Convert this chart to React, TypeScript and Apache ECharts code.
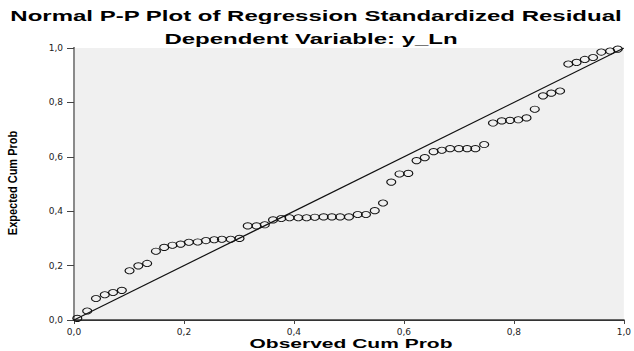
import React, { useEffect, useRef } from "react";
import * as echarts from "echarts";

const titleText = "Normal P-P Plot of Regression Standardized Residual";
const subtitleText = "Dependent Variable: y_Ln";
const xAxisName = "Observed Cum Prob";
const yAxisName = "Expected Cum Prob";

const observedCumProb = [
  0.006, 0.024, 0.04, 0.056, 0.071, 0.087, 0.101, 0.117, 0.133, 0.149,
  0.164, 0.179, 0.194, 0.209, 0.225, 0.24, 0.255, 0.269, 0.285, 0.301,
  0.316, 0.332, 0.347, 0.362, 0.377, 0.392, 0.408, 0.423, 0.438, 0.454,
  0.469, 0.484, 0.5, 0.516, 0.531, 0.547, 0.562, 0.577, 0.592, 0.608,
  0.623, 0.638, 0.654, 0.669, 0.684, 0.7, 0.715, 0.73, 0.746, 0.762,
  0.778, 0.793, 0.808, 0.823, 0.838, 0.853, 0.868, 0.884, 0.899, 0.914,
  0.929, 0.944, 0.959, 0.975, 0.989,
];
const expectedCumProb = [
  0.006, 0.033, 0.079, 0.093, 0.101, 0.109, 0.181, 0.199, 0.208, 0.253,
  0.267, 0.275, 0.279, 0.286, 0.287, 0.292, 0.295, 0.297, 0.297, 0.3,
  0.346, 0.346, 0.35, 0.368, 0.373, 0.376, 0.376, 0.376, 0.378, 0.379,
  0.379, 0.379, 0.379, 0.388, 0.388, 0.402, 0.43, 0.507, 0.537, 0.539,
  0.586, 0.597, 0.619, 0.624, 0.63, 0.63, 0.63, 0.63, 0.645, 0.724,
  0.732, 0.734, 0.736, 0.743, 0.775, 0.824, 0.834, 0.842, 0.941, 0.947,
  0.958, 0.965, 0.985, 0.989, 0.996,
];
const referenceLine = [
  [0, 0],
  [1, 1],
];

const fmt = (v: number) => v.toFixed(1).replace(".", ",");

export default function App() {
  const ref = useRef<HTMLDivElement>(null);
  useEffect(() => {
    if (!ref.current) return;
    const chart = echarts.init(ref.current, undefined, { renderer: "svg" });
    const labelStyle = {
      fontFamily: "DejaVu Sans",
      fontSize: 9,
      color: "#222",
    };
    chart.setOption({
      animation: false,
      backgroundColor: "#ffffff",
      grid: {
        left: 74,
        right: 9,
        top: 48,
        bottom: 31,
        show: true,
        backgroundColor: "#F0F0F0",
        borderWidth: 0,
      },
      xAxis: [
        {
          type: "value",
          min: 0,
          max: 1,
          interval: 0.2,
          position: "bottom",
          axisLine: { show: true, lineStyle: { color: "#666", width: 2 } },
          axisTick: { show: true, length: 4, lineStyle: { color: "#444" } },
          splitLine: { show: false },
          axisLabel: { ...labelStyle, margin: 7, formatter: fmt },
        },
        {
          type: "value",
          min: 0,
          max: 1,
          position: "top",
          axisLine: { show: true, lineStyle: { color: "#333", width: 1.2 } },
          axisTick: { show: false },
          axisLabel: { show: false },
          splitLine: { show: false },
        },
      ],
      yAxis: [
        {
          type: "value",
          min: 0,
          max: 1,
          interval: 0.2,
          position: "left",
          axisLine: { show: true, lineStyle: { color: "#333", width: 2 } },
          axisTick: { show: true, length: 7, lineStyle: { color: "#444" } },
          splitLine: { show: false },
          axisLabel: { ...labelStyle, margin: 11, formatter: fmt },
        },
        {
          type: "value",
          min: 0,
          max: 1,
          position: "right",
          axisLine: { show: true, lineStyle: { color: "#8a8a8a", width: 2 } },
          axisTick: { show: false },
          axisLabel: { show: false },
          splitLine: { show: false },
        },
      ],
      series: [
        {
          type: "line",
          data: referenceLine,
          symbol: "none",
          lineStyle: { color: "#111", width: 1.2 },
          silent: true,
          z: 2,
        },
        {
          type: "scatter",
          data: observedCumProb.map((x, i) => [x, expectedCumProb[i]]),
          symbol: "circle",
          symbolSize: [9, 6.2],
          itemStyle: {
            color: "rgba(0,0,0,0)",
            borderColor: "#111",
            borderWidth: 1,
            opacity: 1,
          },
          z: 3,
        },
      ],
      graphic: [
        {
          type: "text",
          x: 316,
          y: 16,
          scaleX: 1.6,
          style: {
            text: titleText,
            font: "bold 15px 'Liberation Sans', Arial, sans-serif",
            fill: "#000",
            textAlign: "center",
            textVerticalAlign: "middle",
          },
        },
        {
          type: "text",
          x: 311,
          y: 39,
          scaleX: 1.6,
          style: {
            text: subtitleText,
            font: "bold 15px 'Liberation Sans', Arial, sans-serif",
            fill: "#000",
            textAlign: "center",
            textVerticalAlign: "middle",
          },
        },
        {
          type: "text",
          x: 351,
          y: 344,
          scaleX: 1.75,
          style: {
            text: xAxisName,
            font: "bold 12px 'Liberation Sans', Arial, sans-serif",
            fill: "#000",
            textAlign: "center",
            textVerticalAlign: "middle",
          },
        },
        {
          type: "text",
          x: 13,
          y: 183,
          rotation: Math.PI / 2,
          scaleY: 1.2,
          style: {
            text: yAxisName,
            font: "bold 11px 'Liberation Sans', Arial, sans-serif",
            fill: "#000",
            textAlign: "center",
            textVerticalAlign: "middle",
          },
        },
      ],
    });
    return () => chart.dispose();
  }, []);
  return <div ref={ref} style={{ width: 634, height: 351 }} />;
}

if (typeof document !== "undefined") {
  document.body.style.margin = "0";
}
